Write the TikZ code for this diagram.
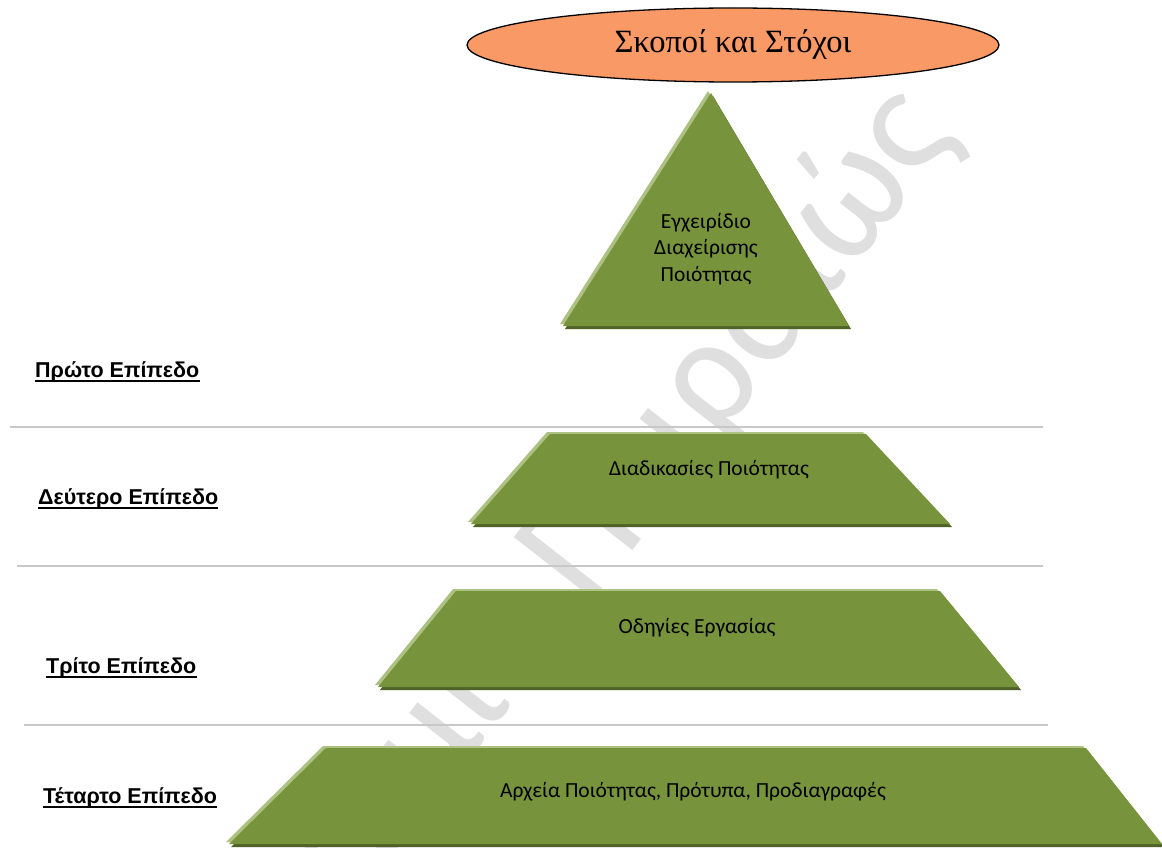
\documentclass[tikz,border=0pt]{standalone}
\usepackage{fontspec}
\setmainfont{Liberation Serif}
\newfontfamily\levelfont{Liberation Sans}
\newfontfamily\boxfont{Carlito}
\usetikzlibrary{shapes.geometric}

\definecolor{tiergreen}{RGB}{119,147,60}
\definecolor{tierlight}{RGB}{172,193,130}
\definecolor{tierdark}{RGB}{79,98,40}
\definecolor{goalfill}{RGB}{249,153,102}
\definecolor{rulegray}{RGB}{200,200,200}
\definecolor{markgray}{RGB}{223,223,223}

% one pyramid tier: light rim up-left, dark rim down-right, green face
\newcommand{\tiershape}[1]{%
  \fill[tierlight, shift={(-3,-2)}] #1;
  \fill[tierdark, shift={(2,3)}] #1;
  \fill[tiergreen] #1;
}

\tikzset{
  boxtext/.style={font=\boxfont\fontsize{21.5}{26.5}\selectfont, text=black, align=center, inner sep=0pt},
  leveltext/.style={font=\levelfont\bfseries\fontsize{21.5}{25}\selectfont, anchor=base west, inner sep=0pt},
  levelrule/.style={rulegray, line width=2.2pt},
}

% thick underline below a label node
\newcommand{\levelunderline}[1]{%
  \draw[line width=2.2pt] ([yshift=-3.8pt]#1.base west) -- ([yshift=-3.8pt]#1.base east);
}

\begin{document}
\begin{tikzpicture}[x=1pt, y=-1pt]
  \useasboundingbox (0,0) rectangle (1162,848);
  \clip (0,0) rectangle (1162,848);
  \fill[white] (0,0) rectangle (1162,848);

  % faint background lettering
  \node[rotate=52, anchor=base east, text=markgray, inner sep=0pt,
        font=\boxfont\fontsize{158}{158}\selectfont] (mark) at (958,134) {Πανεπιστήμιο Πειραιώς};

  % level separators
  \draw[levelrule] (10,427) -- (1043,427);
  \draw[levelrule] (17,566) -- (1043,566);
  \draw[levelrule] (24,725) -- (1048,725);

  % pyramid tiers
  \tiershape{(711,93) -- (849,326) -- (563,326) -- cycle}
  \tiershape{(550,434) -- (866,434) -- (950,524) -- (471,524) -- cycle}
  \tiershape{(456,591) -- (940,591) -- (1019,687) -- (378,687) -- cycle}
  \tiershape{(326,748) -- (1086,748) -- (1162,844) -- (229,844) -- cycle}

  % goals ellipse
  \node[ellipse, draw=black, line width=1.3pt, fill=goalfill,
        minimum width=532pt, minimum height=74pt, inner sep=0pt,
        font=\fontsize{32.5}{38}\selectfont] (goals) at (733,45) {Σκοποί και Στόχοι};

  % tier texts
  \node[boxtext] (manual) at (706,249) {Εγχειρίδιο\\Διαχείρισης\\Ποιότητας};
  \node[boxtext] (procedures) at (709,470) {Διαδικασίες Ποιότητας};
  \node[boxtext] (instructions) at (697,628) {Οδηγίες Εργασίας};
  \node[boxtext] (records) at (693,792) {Αρχεία Ποιότητας, Πρότυπα, Προδιαγραφές};

  % level labels
  \node[leveltext] (lvl1) at (35,377) {Πρώτο Επίπεδο};
  \node[leveltext] (lvl2) at (38,504) {Δεύτερο Επίπεδο};
  \node[leveltext] (lvl3) at (46,673) {Τρίτο Επίπεδο};
  \node[leveltext] (lvl4) at (43,803) {Τέταρτο Επίπεδο};
  \levelunderline{lvl1}
  \levelunderline{lvl2}
  \levelunderline{lvl3}
  \levelunderline{lvl4}
\end{tikzpicture}
\end{document}
